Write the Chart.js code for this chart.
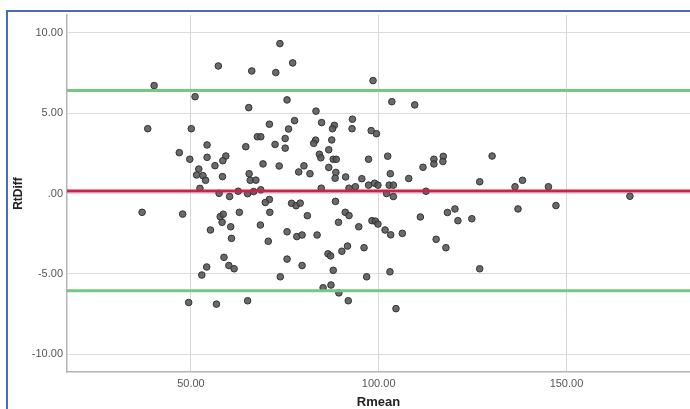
<!DOCTYPE html>
<html>
<head>
<meta charset="utf-8">
<script src="https://cdn.jsdelivr.net/npm/chart.js@4.4.1/dist/chart.umd.min.js"></script>
<style>
  html, body { margin: 0; padding: 0; background: #fff; overflow: hidden; }
  #wrap { position: relative; width: 690px; height: 409px; }
  #frame {
    position: absolute; left: 6px; top: 10px; width: 700px; height: 420px;
    border-left: 2px solid #4a6cbc; border-top: 2px solid #4a6cbc;
  }
  canvas { position: absolute; left: 0; top: 0; }
</style>
</head>
<body>
<div id="wrap">
  <div id="frame"></div>
  <canvas id="chart" width="690" height="409"></canvas>
</div>
<script>
// Bland-Altman data
const rmean = [
  40.2, 57.3, 51.1, 38.5, 50.1, 54.3, 46.9, 49.7, 54.3, 59.3,
  56.4, 58.5, 52.1, 51.5, 53.2, 53.9, 58.4, 52.4, 57.5, 60.3,
  37.0, 47.8, 57.8, 58.6, 58.3, 55.2, 58.8, 60.1, 61.5, 54.2,
  52.9, 49.4, 56.8, 65.4, 75.6, 70.9, 77.6, 76.0, 67.7, 68.6,
  75.1, 75.1, 72.4, 64.6, 69.2, 73.5, 65.5, 65.8, 67.3, 78.7,
  62.6, 65.1, 66.7, 68.6, 70.9, 69.8, 76.8, 78.0, 79.1, 73.7,
  66.2, 72.6, 77.1, 98.5, 103.5, 109.6, 83.3, 84.8, 88.2, 87.7,
  93.0, 92.9, 98.0, 99.4, 83.2, 82.7, 87.5, 86.7, 84.2, 84.6,
  87.9, 88.7, 97.3, 102.4, 111.8, 114.7, 117.2, 114.7, 117.1, 80.1,
  81.7, 86.7, 88.6, 88.4, 91.2, 95.5, 103.1, 108.0, 88.5, 84.7,
  92.1, 93.8, 97.3, 98.9, 99.8, 102.1, 102.8, 103.9, 103.9, 112.6,
  130.2, 126.9, 136.3, 138.3, 145.2, 147.2, 166.9, 62.9, 60.6, 60.8,
  71.0, 68.5, 70.6, 75.6, 78.2, 75.6, 73.8, 65.1, 81.0, 91.1,
  92.1, 79.6, 83.6, 89.3, 94.7, 98.2, 99.1, 99.8, 101.7, 103.2,
  106.3, 111.1, 118.3, 115.3, 117.9, 79.6, 86.5, 87.2, 90.2, 91.7,
  96.1, 87.9, 96.8, 103.0, 85.2, 87.3, 89.4, 91.9, 104.6, 120.3,
  121.1, 124.8, 126.9, 137.1
];
const rtdiff = [
  6.71, 7.93, 6.02, 4.03, 4.03, 3.02, 2.54, 2.13, 2.25, 2.33,
  1.73, 2.04, 1.52, 1.15, 1.11, 0.82, 1.05, 0.32, 0.01, -0.19,
  -1.17, -1.28, -1.44, -1.29, -1.79, -2.27, -3.97, -4.48, -4.68, -4.57,
  -5.07, -6.78, -6.88, 5.34, 5.82, 4.31, 4.53, 4.01, 3.53, 3.53,
  3.42, 2.82, 3.05, 2.91, 1.84, 1.71, 1.23, 0.82, 0.83, 1.34,
  0.14, -0.01, 0.12, 0.23, -0.37, -0.56, -0.61, -0.76, -0.60, 9.32,
  7.62, 7.52, 8.12, 7.02, 5.71, 5.51, 5.12, 4.41, 4.24, 4.03,
  4.62, 4.03, 3.91, 3.72, 3.32, 3.12, 3.33, 2.72, 2.44, 2.22,
  2.13, 2.13, 2.13, 2.32, 1.63, 2.13, 2.31, 1.84, 1.99, 1.72,
  1.23, 1.62, 1.31, 0.95, 1.03, 0.92, 1.23, 0.93, -0.49, 0.33,
  0.33, 0.42, 0.52, 0.64, 0.52, 0.00, 0.52, 0.52, -0.19, 0.14,
  2.33, 0.73, 0.42, 0.82, 0.42, -0.75, -0.17, -1.17, -2.07, -2.79,
  -1.17, -1.96, -2.97, -2.38, -2.68, -4.08, -5.18, -6.67, -1.38, -1.17,
  -1.37, -2.58, -2.58, -1.79, -2.07, -1.69, -1.72, -1.90, -2.27, -2.57,
  -2.48, -1.46, -1.18, -2.85, -3.37, -4.48, -3.75, -3.88, -3.59, -3.27,
  -3.37, -4.78, -5.18, -4.87, -5.86, -5.69, -6.18, -6.67, -7.16, -0.96,
  -1.69, -1.57, -4.68, -0.96
];

// mean difference and limits of agreement
const meanDiff = [0.16];
const limits = [6.40, -6.05];

const xRange = [17, 182.9];
const yRange = [-11.1, 11.1];
const xTickValues = [50, 100, 150];
const xTickLabels = ["50.00", "100.00", "150.00"];
const yTickValues = [-10, -5, 0, 5, 10];
const yTickLabels = ["-10.00", "-5.00", ".00", "5.00", "10.00"];

function hLine(v) {
  return [{ x: xRange[0], y: v }, { x: xRange[1], y: v }];
}

const ctx = document.getElementById("chart").getContext("2d");
const chart = new Chart(ctx, {
  type: "scatter",
  data: {
    datasets: [
      {
        type: "line",
        data: hLine(meanDiff[0]),
        borderColor: "#d21f48",
        borderWidth: 3,
        pointRadius: 0,
        order: 0,
      },
      {
        type: "line",
        data: hLine(limits[0]),
        borderColor: "#72c97f",
        borderWidth: 3,
        pointRadius: 0,
        order: 0,
      },
      {
        type: "line",
        data: hLine(limits[1]),
        borderColor: "#72c97f",
        borderWidth: 3,
        pointRadius: 0,
        order: 0,
      },
      {
        data: rmean.map((x, i) => ({ x: x, y: rtdiff[i] })),
        backgroundColor: "rgba(85, 85, 85, 0.88)",
        borderColor: "#333",
        borderWidth: 1,
        pointRadius: 3.3,
        order: 1,
      },
    ],
  },
  options: {
    responsive: false,
    animation: false,
    devicePixelRatio: 1,
    layout: { autoPadding: false, padding: { top: 15, right: 0, bottom: 0, left: 0 } },
    plugins: { legend: { display: false }, tooltip: { enabled: false } },
    scales: {
      x: {
        type: "linear",
        min: xRange[0],
        max: xRange[1],
        afterBuildTicks: (s) => { s.ticks = xTickValues.map((v) => ({ value: v })); },
        afterFit: (s) => { s.height = 37; },
        grid: { color: "#d6d6d6", lineWidth: 1, drawTicks: false },
        border: { color: "#b4b4b4", width: 1.5 },
        ticks: {
          padding: 5,
          color: "#555",
          font: { family: "Liberation Sans", size: 11 },
          maxRotation: 0,
          callback: (v) => xTickLabels[xTickValues.indexOf(v)],
        },
        title: {
          display: true,
          text: "Rmean",
          color: "#222",
          font: { family: "Liberation Sans", size: 13, weight: "bold", lineHeight: 1 },
          padding: { top: 0, bottom: 0 },
        },
      },
      y: {
        type: "linear",
        min: yRange[0],
        max: yRange[1],
        afterBuildTicks: (s) => { s.ticks = yTickValues.map((v) => ({ value: v })); },
        afterFit: (s) => { s.width = 67; },
        grid: { color: "#dcdcdc", lineWidth: 1, drawTicks: false },
        border: { color: "#b4b4b4", width: 1.5 },
        ticks: {
          padding: 4,
          color: "#555",
          font: { family: "Liberation Sans", size: 11 },
          callback: (v) => yTickLabels[yTickValues.indexOf(v)],
        },
        title: {
          display: true,
          text: "RtDiff",
          color: "#222",
          font: { family: "Liberation Sans", size: 12, weight: "bold", lineHeight: 1.2 },
          padding: { top: 11, bottom: 0 },
        },
      },
    },
  },
});
</script>
</body>
</html>
